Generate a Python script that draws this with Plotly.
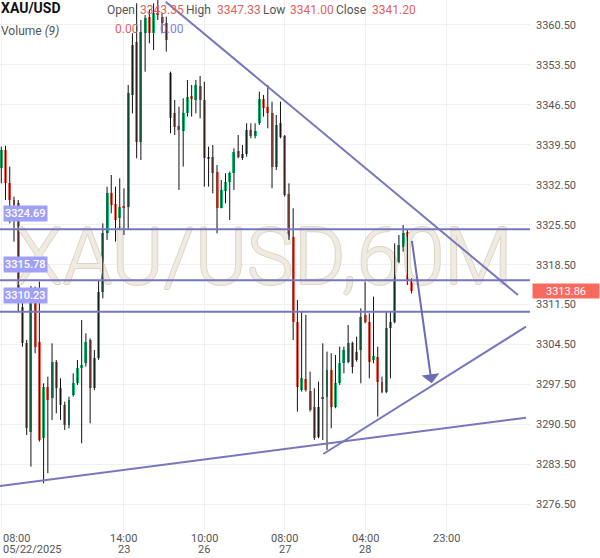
import plotly.graph_objects as go

# ---------------- data (hourly candles, XAU/USD 60M) ----------------
opens = [3335.38, 3338.60, 3332.75, 3329.83, 3329.25, 3311.14, 3304.72, 3289.24, 3314.36, 3305.01,
         3288.07, 3297.12, 3295.08, 3301.51, 3296.83, 3293.91, 3290.41, 3295.66, 3297.71, 3300.34,
         3301.21, 3305.30, 3296.83, 3302.09, 3313.77, 3323.99, 3331.00, 3329.13, 3326.62, 3328.78,
         3328.67, 3348.23, 3357.58, 3340.06, 3359.04, 3361.96, 3359.04, 3362.66, 3361.96, 3360.79,
         3352.03, 3345.02, 3342.80, 3341.98, 3345.02, 3348.06, 3347.36, 3349.81, 3347.36, 3337.14,
         3337.43, 3334.80, 3328.37, 3331.47, 3333.05, 3334.62, 3338.48, 3337.14, 3337.89, 3342.10,
         3341.05, 3343.39, 3347.47, 3346.19, 3345.14, 3335.68, 3343.27, 3341.05, 3330.83, 3323.41,
         3308.51, 3296.54, 3298.41, 3296.42, 3293.62, 3288.36, 3294.91, 3295.37, 3300.04, 3293.62,
         3297.71, 3301.21, 3301.51, 3304.72, 3301.80, 3303.55, 3309.68, 3308.51, 3301.80, 3302.38,
         3298.00, 3296.25, 3307.35, 3308.51, 3319.03, 3321.66, 3324.29, 3315.82]
highs = [3339.18, 3339.35, 3335.68, 3330.42, 3329.83, 3312.31, 3305.30, 3314.77, 3314.65, 3315.52,
         3297.71, 3298.88, 3304.72, 3301.80, 3298.59, 3294.50, 3295.37, 3299.46, 3301.80, 3308.81,
         3306.47, 3305.59, 3303.55, 3315.82, 3325.75, 3332.17, 3334.21, 3332.17, 3333.63, 3331.88,
         3349.99, 3359.04, 3364.30, 3361.38, 3362.25, 3363.13, 3364.30, 3364.88, 3362.54, 3361.96,
         3352.32, 3347.36, 3346.19, 3347.65, 3350.86, 3349.99, 3350.86, 3351.56, 3350.57, 3339.18,
         3339.47, 3335.97, 3333.34, 3334.51, 3334.80, 3338.89, 3341.22, 3339.47, 3343.27, 3343.27,
         3343.27, 3348.82, 3348.23, 3349.99, 3347.06, 3344.73, 3347.06, 3341.22, 3332.75, 3328.37,
         3312.31, 3310.27, 3309.68, 3299.75, 3296.83, 3298.00, 3304.72, 3303.26, 3302.97, 3302.67,
         3304.13, 3304.13, 3307.93, 3305.01, 3305.89, 3310.85, 3315.52, 3309.97, 3312.89, 3304.13,
         3298.88, 3310.27, 3310.27, 3322.24, 3323.70, 3325.45, 3324.58, 3316.11]
lows = [3332.75, 3329.83, 3325.75, 3322.53, 3310.27, 3304.13, 3288.65, 3283.10, 3302.97, 3287.49,
        3280.19, 3281.94, 3291.28, 3292.45, 3291.28, 3289.53, 3289.82, 3295.37, 3297.42, 3287.20,
        3300.63, 3290.70, 3296.54, 3301.80, 3312.60, 3322.83, 3327.50, 3322.53, 3324.58, 3323.70,
        3324.58, 3345.02, 3337.14, 3336.84, 3352.32, 3357.29, 3356.12, 3361.38, 3359.04, 3355.83,
        3341.52, 3341.22, 3331.59, 3335.68, 3344.44, 3344.44, 3345.02, 3344.14, 3332.17, 3332.17,
        3331.00, 3323.99, 3328.37, 3329.25, 3326.33, 3331.59, 3337.14, 3336.84, 3337.43, 3340.64,
        3340.64, 3342.98, 3344.44, 3342.39, 3331.88, 3335.09, 3340.64, 3330.42, 3322.83, 3305.30,
        3292.75, 3296.25, 3296.25, 3292.75, 3287.78, 3288.07, 3287.78, 3286.03, 3289.82, 3293.33,
        3297.42, 3299.46, 3301.21, 3299.46, 3301.51, 3297.71, 3308.22, 3298.59, 3301.21, 3291.87,
        3295.96, 3295.96, 3298.59, 3308.22, 3318.74, 3320.78, 3314.94, 3313.46]
closes = [3338.60, 3332.75, 3329.83, 3328.96, 3311.73, 3304.72, 3289.82, 3314.36, 3304.13, 3287.78,
          3297.12, 3294.79, 3301.51, 3296.83, 3293.91, 3290.41, 3294.79, 3297.71, 3300.34, 3300.92,
          3305.01, 3296.83, 3302.09, 3313.77, 3323.99, 3331.00, 3328.96, 3326.33, 3328.67, 3328.55,
          3348.53, 3356.99, 3340.06, 3359.33, 3361.67, 3359.04, 3362.54, 3362.31, 3360.79, 3357.87,
          3344.14, 3342.68, 3342.10, 3345.02, 3347.94, 3347.47, 3349.99, 3347.36, 3337.14, 3337.43,
          3334.51, 3328.37, 3331.59, 3333.05, 3334.51, 3338.30, 3337.43, 3337.89, 3342.10, 3341.05,
          3341.98, 3347.47, 3345.90, 3345.02, 3335.68, 3342.98, 3340.93, 3330.71, 3323.41, 3308.51,
          3297.12, 3298.59, 3296.54, 3293.04, 3288.07, 3293.62, 3295.37, 3300.04, 3293.62, 3297.71,
          3301.21, 3303.55, 3304.72, 3300.63, 3303.26, 3309.39, 3308.51, 3301.51, 3302.50, 3298.00,
          3296.25, 3307.35, 3308.51, 3319.03, 3321.95, 3323.99, 3315.82, 3313.86]
bar_index = list(range(len(opens)))

time_tick_index = [0, 29, 48, 67, 86, 105.2]
time_tick_top = ["08:00", "14:00", "10:00", "08:00", "04:00", "23:00"]
time_tick_bottom = ["05/22/2025", "23", "26", "27", "28", ""]

price_ticks = [3276.5, 3283.5, 3290.5, 3297.5, 3304.5, 3311.5, 3318.5, 3325.5,
               3332.5, 3339.5, 3346.5, 3353.5, 3360.5]

level_prices = [3324.69, 3315.78, 3310.23]
last_price = 3313.86

# drawn trend lines: (index, price) endpoints
trend_down = [(38.87, 3364.58), (122.15, 3313.18)]
trend_support = [(-0.31, 3279.71), (124.04, 3291.68)]
trend_rising = [(76.12, 3285.32), (124.04, 3307.63)]
arrow_path = [(97.02, 3322.94), (101.75, 3297.71)]

header_ohlc = [("Open", "3343.35"), ("High", "3347.33"), ("Low", "3341.00"), ("Close", "3341.20")]

# ---------------- styling ----------------
UP = "#12c47b"
DOWN = "#f96a5e"
LINE = "#7777bf"
FONT = "Roboto"
PLOT_W, PLOT_H = 530, 530

fig = go.Figure()

# watermark (behind candles)
fig.add_trace(go.Scatter(
    x=[62.0], y=[3318.6], mode="text", text=["XAU/USD,60M"],
    textposition="middle center",
    textfont=dict(family=FONT, size=79, color="#efebe2", weight=300,
                  shadow="1px 0 0 #ddd5c3, -1px 0 0 #ddd5c3, 0 1px 0 #ddd5c3, 0 -1px 0 #ddd5c3"),
    hoverinfo="skip", showlegend=False))

# wicks
wx, wy = [], []
for i, h, l in zip(bar_index, highs, lows):
    wx += [i, i, None]
    wy += [l, h, None]
fig.add_trace(go.Scatter(x=wx, y=wy, mode="lines", line=dict(color="#111111", width=1),
                         hoverinfo="skip", showlegend=False))

# bodies
base = [min(o, c) for o, c in zip(opens, closes)]
size = [max(abs(c - o), 0.2) for o, c in zip(opens, closes)]
colors = [UP if c >= o else DOWN for o, c in zip(opens, closes)]
fig.add_trace(go.Bar(x=bar_index, y=size, base=base, width=0.7,
                     marker=dict(color=colors, line=dict(width=0)),
                     hoverinfo="skip", showlegend=False))

shapes = []
for p in level_prices:
    shapes.append(dict(type="line", xref="paper", x0=0, x1=1, yref="y", y0=p, y1=p,
                       line=dict(color=LINE, width=2)))
for seg in (trend_down, trend_support, trend_rising):
    shapes.append(dict(type="line", xref="x", yref="y", x0=seg[0][0], y0=seg[0][1],
                       x1=seg[1][0], y1=seg[1][1], line=dict(color=LINE, width=2)))

ann = []
# level labels
for p in level_prices:
    ann.append(dict(xref="paper", x=3 / PLOT_W, xanchor="left", yref="y", y=p, yanchor="middle",
                    yshift=16, text=f"{p:.2f}", showarrow=False, bgcolor="#a0a0f7",
                    borderpad=1, font=dict(family=FONT, size=11, color="white", weight=500)))
# last price label
ann.append(dict(xref="paper", x=1, xanchor="left", xshift=2, yref="y", y=last_price,
                yanchor="middle", text=f"{last_price:.2f}", showarrow=False, bgcolor=DOWN,
                width=64, height=12, borderpad=1,
                font=dict(family=FONT, size=11, color="white")))
# arrow
ann.append(dict(xref="x", yref="y", x=arrow_path[1][0], y=arrow_path[1][1],
                axref="x", ayref="y", ax=arrow_path[0][0], ay=arrow_path[0][1],
                text="", showarrow=True, arrowhead=1, arrowsize=1.5, arrowwidth=2,
                arrowcolor="#6c6cb4", standoff=0))
# x-axis labels
for xi, top, bot in zip(time_tick_index, time_tick_top, time_tick_bottom):
    anchor = "left" if xi == 0 else "center"
    ann.append(dict(xref="x", x=xi, xanchor=anchor, yref="paper", y=0, yanchor="middle",
                    yshift=-8.5, text=top, showarrow=False,
                    font=dict(family=FONT, size=11, color="#555555")))
    if bot:
        ann.append(dict(xref="x", x=xi, xanchor=anchor, yref="paper", y=0, yanchor="middle",
                        yshift=-19.5, text=bot, showarrow=False,
                        font=dict(family=FONT, size=11, color="#555555")))


def px_x(px):
    return px / PLOT_W


def px_y(py):
    return 1 - py / PLOT_H


# header
ann.append(dict(xref="paper", yref="paper", x=px_x(0), y=px_y(7.5), xanchor="left",
                yanchor="middle", text="<b>XAU/USD</b>", showarrow=False, borderpad=0,
                font=dict(family=FONT, size=14, color="#111111")))
ann.append(dict(xref="paper", yref="paper", x=px_x(0), y=px_y(30.5), xanchor="left",
                yanchor="middle", text="Volume <i>(9)</i>", showarrow=False, borderpad=0,
                font=dict(family=FONT, size=12, color="#555555")))
label_x = [106, 185, 262, 335]
value_x = [139, 216, 289, 371]
for (lab, val), lx, vx in zip(header_ohlc, label_x, value_x):
    ann.append(dict(xref="paper", yref="paper", x=px_x(lx), y=px_y(10), xanchor="left",
                    yanchor="middle", text=lab, showarrow=False, borderpad=0,
                    font=dict(family=FONT, size=12, color="#555555")))
    ann.append(dict(xref="paper", yref="paper", x=px_x(vx), y=px_y(10), xanchor="left",
                    yanchor="middle", text=val, showarrow=False, borderpad=0,
                    font=dict(family=FONT, size=12, color="#e0625a")))
ann.append(dict(xref="paper", yref="paper", x=px_x(114), y=px_y(28.7), xanchor="left",
                yanchor="middle", text="0.00", showarrow=False, borderpad=0,
                font=dict(family=FONT, size=12, color="#e0625a")))
ann.append(dict(xref="paper", yref="paper", x=px_x(159), y=px_y(28.7), xanchor="left",
                yanchor="middle", text="0.00", showarrow=False, borderpad=0,
                font=dict(family=FONT, size=12, color="#7f7ff2")))

fig.update_layout(
    width=600, height=558,
    margin=dict(l=0, r=70, t=0, b=28),
    plot_bgcolor="white", paper_bgcolor="white",
    showlegend=False, bargap=0,
    font=dict(family=FONT),
    shapes=shapes, annotations=ann,
    xaxis=dict(range=[-0.307, 124.99], tickvals=time_tick_index, showticklabels=False,
               showgrid=True, gridcolor="#f0f0f0", gridwidth=1, zeroline=False,
               showline=False, ticks="", fixedrange=True),
    yaxis=dict(side="right", range=[3272.0, 3364.88], tickvals=price_ticks, tickformat=".2f",
               tickfont=dict(family=FONT, size=11, color="#555555"),
               showgrid=True, gridcolor="#f0f0f0", gridwidth=1, zeroline=False,
               showline=False, ticks="", ticklabelstandoff=5, fixedrange=True),
)

fig.write_html("out.html")
